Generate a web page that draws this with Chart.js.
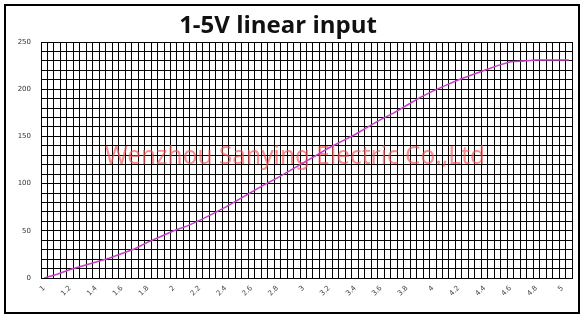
<!DOCTYPE html>
<html>
<head>
<meta charset="utf-8">
<title>1-5V linear input</title>
<script src="https://cdn.jsdelivr.net/npm/chart.js@4.4.1/dist/chart.umd.min.js"></script>
<style>
    html, body { margin: 0; padding: 0; background: #fff; }
    #wrap { width: 588px; height: 320px; }
</style>
</head>
<body>
<div id="wrap"><canvas id="chart-linear" width="588" height="320"></canvas></div>
<script>
const chartTitle = "1-5V linear input";
const watermark = "Wenzhou Sanying Electric Co.,Ltd";

// input voltage (V), read every 0.1 V
const voltages = [1.0, 1.1, 1.2, 1.3, 1.4, 1.5, 1.6, 1.7, 1.8, 1.9,
    2.0, 2.1, 2.2, 2.3, 2.4, 2.5, 2.6, 2.7, 2.8, 2.9,
    3.0, 3.1, 3.2, 3.3, 3.4, 3.5, 3.6, 3.7, 3.8, 3.9,
    4.0, 4.1, 4.2, 4.3, 4.4, 4.5, 4.6, 4.7, 4.8, 4.9,
    5.0, 5.05];
// output value at each voltage
const outputs = [0, 4, 9, 13, 17, 21, 26, 31, 38, 44,
    50, 55, 61, 68, 75, 83, 91, 99, 106, 114,
    122, 130, 138, 145, 152, 160, 168, 175, 183, 191,
    198, 204, 210, 215, 220, 225, 229, 230, 231, 231,
    231, 231];

// x axis categories, one per 0.05 V grid column
const categories = [];
for (let i = 0; i <= 81; i++) categories.push((1 + i * 0.05).toFixed(2));
// labels shown every 4th category
const xTickLabels = ["1", "1.2", "1.4", "1.6", "1.8", "2", "2.2", "2.4", "2.6", "2.8",
    "3", "3.2", "3.4", "3.6", "3.8", "4", "4.2", "4.4", "4.6", "4.8", "5"];
const yMin = 0, yMax = 250, yGridStep = 10, yLabelStep = 50;

const decor = {
    id: "decor",
    beforeDraw(chart) {
        const ctx = chart.ctx;
        ctx.save();
        ctx.fillStyle = "#fff";
        ctx.fillRect(0, 0, chart.width, chart.height);
        ctx.strokeStyle = "#000";
        ctx.lineWidth = 2;
        ctx.strokeRect(5, 5, 574, 308);
        ctx.fillStyle = "#111";
        ctx.font = "bold 24px 'Open Sans'";
        ctx.textAlign = "center";
        ctx.textBaseline = "alphabetic";
        ctx.fillText(chartTitle, 278, 33);
        ctx.restore();
    },
    beforeDatasetsDraw(chart) {
        const ctx = chart.ctx;
        ctx.save();
        ctx.fillStyle = "rgba(250, 80, 80, 0.65)";
        ctx.font = "26px 'Noto Sans'";
        ctx.textAlign = "center";
        ctx.textBaseline = "alphabetic";
        ctx.fillText(watermark, 295, 164, 380);
        ctx.restore();
    }
};

new Chart(document.getElementById("chart-linear").getContext("2d"), {
    type: "line",
    data: {
        labels: categories,
        datasets: [
            {
                label: "output",
                data: voltages.map((v, i) => ({x: v.toFixed(2), y: outputs[i]})),
                borderColor: "#c83cc8",
                borderWidth: 1.5,
                pointRadius: 0,
                tension: 0,
                fill: false
            }
        ]
    },
    options: {
        responsive: false,
        animation: false,
        devicePixelRatio: 1,
        layout: {padding: {top: 42, right: 16, bottom: 0, left: 0}},
        plugins: {
            legend: {display: false},
            tooltip: {enabled: false},
            title: {display: false}
        },
        scales: {
            x: {
                type: "category",
                offset: true,
                grid: {offset: true, color: "#000", lineWidth: 1, drawTicks: false},
                border: {color: "#000", width: 1},
                ticks: {
                    autoSkip: false,
                    maxRotation: 45,
                    minRotation: 45,
                    padding: 6,
                    color: "#444",
                    font: {size: 7, family: "'DejaVu Sans'"},
                    callback: (value, index) => (index % 4 === 0 && index / 4 < xTickLabels.length) ? xTickLabels[index / 4] : ""
                },
                afterFit: (scale) => { scale.height = 42; }
            },
            y: {
                min: yMin,
                max: yMax,
                grid: {color: "#000", lineWidth: 1, drawTicks: false},
                border: {color: "#000", width: 1},
                ticks: {
                    stepSize: yGridStep,
                    autoSkip: false,
                    padding: 10,
                    color: "#333",
                    font: {size: 7, family: "'DejaVu Sans'"},
                    callback: (v) => v % yLabelStep === 0 ? v : ""
                },
                afterFit: (scale) => { scale.width = 41; }
            }
        }
    },
    plugins: [decor]
});
</script>
</body>
</html>
